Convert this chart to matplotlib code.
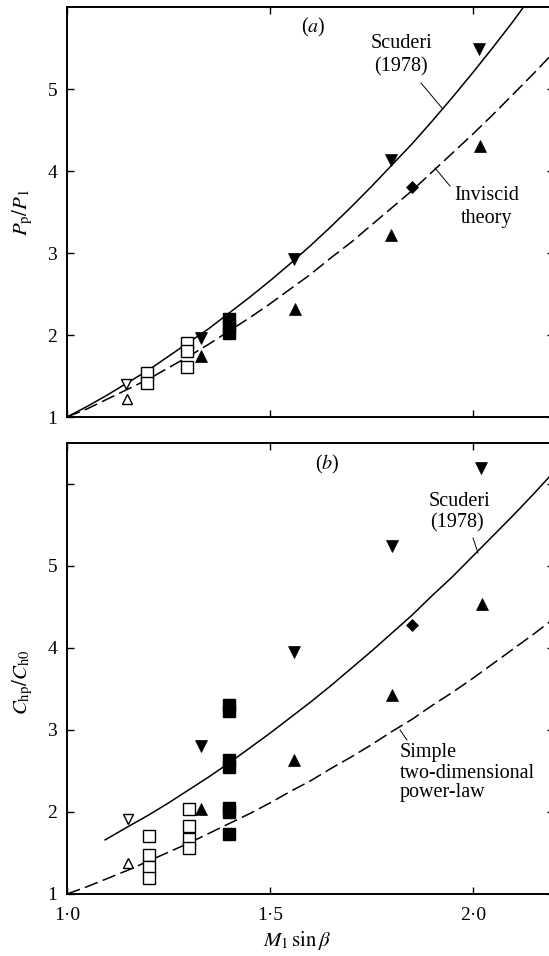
import matplotlib
matplotlib.use("Agg")
import matplotlib.pyplot as plt
from matplotlib.lines import Line2D
from matplotlib.ticker import FixedLocator, FixedFormatter

plt.rcParams['font.family'] = ['Liberation Serif', 'DejaVu Serif']
plt.rcParams['mathtext.fontset'] = 'stix'

# ---------------- data: panel (a) P_p/P_1 ----------------
a_open_down_x = [1.145]
a_open_down_y = [1.40]
a_open_up_x = [1.147]
a_open_up_y = [1.225]
a_open_sq_x = [1.198, 1.198, 1.296, 1.296, 1.296]
a_open_sq_y = [1.54, 1.41, 1.90, 1.81, 1.61]
a_fill_sq_x = [1.40, 1.40, 1.40]
a_fill_sq_y = [2.03, 2.11, 2.19]
a_fill_down_x = [1.329, 1.560, 1.799, 2.016]
a_fill_down_y = [1.96, 2.93, 4.14, 5.49]
a_fill_up_x = [1.329, 1.562, 1.799, 2.018]
a_fill_up_y = [1.74, 2.32, 3.22, 4.31]
a_diamond_x = [1.850]
a_diamond_y = [3.80]
scuderi_a_x = [1.0, 1.05, 1.1, 1.15, 1.2, 1.25, 1.3, 1.35, 1.4, 1.45, 1.5, 1.55,
               1.6, 1.65, 1.7, 1.75, 1.8, 1.85, 1.9, 1.95, 2.0, 2.05, 2.1, 2.15]
scuderi_a_y = [1.0, 1.13, 1.27, 1.42, 1.57, 1.74, 1.91, 2.08, 2.27, 2.46, 2.66, 2.87,
               3.09, 3.32, 3.56, 3.81, 4.07, 4.33, 4.61, 4.90, 5.20, 5.51, 5.83, 6.17]
inviscid_x = [1.0, 1.05, 1.1, 1.15, 1.2, 1.25, 1.3, 1.35, 1.4, 1.45, 1.5, 1.55,
              1.6, 1.65, 1.7, 1.75, 1.8, 1.85, 1.9, 1.95, 2.0, 2.05, 2.1, 2.15, 2.2]
inviscid_y = [1.0, 1.10, 1.22, 1.34, 1.46, 1.60, 1.74, 1.89, 2.05, 2.21, 2.38, 2.56,
              2.74, 2.94, 3.13, 3.34, 3.55, 3.76, 3.99, 4.22, 4.45, 4.69, 4.94, 5.19, 5.45]

# ---------------- data: panel (b) C_hp/C_h0 ----------------
b_open_down_x = [1.151]
b_open_down_y = [1.92]
b_open_up_x = [1.151]
b_open_up_y = [1.375]
b_open_sq_x = [1.201, 1.201, 1.201, 1.201, 1.301, 1.301, 1.301, 1.301]
b_open_sq_y = [1.71, 1.47, 1.33, 1.19, 2.04, 1.83, 1.67, 1.56]
b_fill_sq_x = [1.40, 1.40, 1.40, 1.40, 1.40, 1.40, 1.40]
b_fill_sq_y = [3.23, 3.31, 2.55, 2.63, 2.00, 2.05, 1.73]
b_fill_down_x = [1.331, 1.560, 1.801, 2.019]
b_fill_down_y = [2.80, 3.95, 5.25, 6.20]
b_fill_up_x = [1.331, 1.560, 1.801, 2.022]
b_fill_up_y = [2.04, 2.64, 3.43, 4.54]
b_diamond_x = [1.850]
b_diamond_y = [4.28]
scuderi_b_x = [1.094, 1.15, 1.2, 1.25, 1.3, 1.35, 1.4, 1.45, 1.5, 1.55, 1.6, 1.65,
               1.7, 1.75, 1.8, 1.85, 1.9, 1.95, 2.0, 2.05, 2.1, 2.15, 2.2]
scuderi_b_y = [1.66, 1.82, 1.96, 2.11, 2.27, 2.43, 2.60, 2.78, 2.96, 3.15, 3.34, 3.54,
               3.75, 3.96, 4.18, 4.40, 4.64, 4.87, 5.12, 5.37, 5.62, 5.88, 6.15]
power_b_x = [1.0, 1.05, 1.1, 1.15, 1.2, 1.25, 1.3, 1.35, 1.4, 1.45, 1.5, 1.55,
             1.6, 1.65, 1.7, 1.75, 1.8, 1.85, 1.9, 1.95, 2.0, 2.05, 2.1, 2.15, 2.2]
power_b_y = [1.0, 1.09, 1.19, 1.29, 1.40, 1.51, 1.62, 1.74, 1.86, 1.98, 2.11, 2.25,
             2.38, 2.53, 2.67, 2.82, 2.98, 3.13, 3.30, 3.46, 3.63, 3.81, 3.99, 4.17, 4.36]

x_ticks = [1.0, 1.5, 2.0]
x_ticklabels = ['1·0', '1·5', '2·0']
a_yticks = [1, 2, 3, 4, 5]
a_yticklabels = ['1', '2', '3', '4', '5']
b_yticks = [1, 2, 3, 4, 5, 6]
b_yticklabels = ['1', '2', '3', '4', '5', '']

W, H = 549, 956
fig = plt.figure(figsize=(W / 100, H / 100), dpi=100)

def fx(px):
    return px / W

def fy(py):
    return 1 - py / H

left_px, right_px = 67, 554
ax_a = fig.add_axes([fx(left_px), fy(417), fx(right_px - left_px), (417 - 7) / H])
ax_b = fig.add_axes([fx(left_px), fy(894), fx(right_px - left_px), (894 - 443) / H])

FS = 14
FT = 14.5
ms_tri = 8
ms_sq = 8.5
mew = 1.0

def style_axis(ax, ylim, yticks, ylabels, show_x):
    ax.set_xlim(1.0, 2.2)
    ax.set_ylim(*ylim)
    for s in ax.spines.values():
        s.set_linewidth(1.4)
    ax.xaxis.set_major_locator(FixedLocator(x_ticks))
    ax.yaxis.set_major_locator(FixedLocator(yticks))
    ax.yaxis.set_major_formatter(FixedFormatter(ylabels))
    if show_x:
        ax.xaxis.set_major_formatter(FixedFormatter(x_ticklabels))
    else:
        ax.xaxis.set_major_formatter(FixedFormatter(['', '', '']))
    ax.tick_params(direction='in', length=5, width=1.0, top=True, right=True,
                   labelsize=FS, pad=7)
    ax.tick_params(axis='x', pad=9)

def plot_markers(ax, od, ou, osq, fsq, fd, fu, dm):
    ax.plot(*od, linestyle='none', marker='v', ms=ms_tri - 1, mfc='white', mec='black', mew=mew, zorder=5)
    ax.plot(*ou, linestyle='none', marker='^', ms=ms_tri - 1, mfc='white', mec='black', mew=mew, zorder=5)
    ax.plot(*osq, linestyle='none', marker='s', ms=ms_sq, mfc='white', mec='black', mew=mew, zorder=5)
    ax.plot(*fsq, linestyle='none', marker='s', ms=ms_sq, mfc='black', mec='black', mew=mew, zorder=5)
    ax.plot(*fd, linestyle='none', marker='v', ms=ms_tri, mfc='black', mec='black', mew=0.5, zorder=5)
    ax.plot(*fu, linestyle='none', marker='^', ms=ms_tri, mfc='black', mec='black', mew=0.5, zorder=5)
    ax.plot(*dm, linestyle='none', marker='D', ms=6, mfc='black', mec='black', mew=0.5, zorder=5)

# panel (a)
style_axis(ax_a, (1.0, 6.0), a_yticks, a_yticklabels, False)
ax_a.plot(scuderi_a_x, scuderi_a_y, color='black', lw=1.1)
ax_a.plot(inviscid_x, inviscid_y, color='black', lw=1.1, dashes=(9, 3.5))
plot_markers(ax_a, (a_open_down_x, a_open_down_y), (a_open_up_x, a_open_up_y),
             (a_open_sq_x, a_open_sq_y), (a_fill_sq_x, a_fill_sq_y),
             (a_fill_down_x, a_fill_down_y), (a_fill_up_x, a_fill_up_y),
             (a_diamond_x, a_diamond_y))
ax_a.set_ylabel(r'$P_{\mathrm{p}}/P_1$', fontsize=FS + 1)

# panel (b)
style_axis(ax_b, (1.0, 6.5), b_yticks, b_yticklabels, True)
ax_b.plot(scuderi_b_x, scuderi_b_y, color='black', lw=1.1)
ax_b.plot(power_b_x, power_b_y, color='black', lw=1.1, dashes=(9, 3.5))
plot_markers(ax_b, (b_open_down_x, b_open_down_y), (b_open_up_x, b_open_up_y),
             (b_open_sq_x, b_open_sq_y), (b_fill_sq_x, b_fill_sq_y),
             (b_fill_down_x, b_fill_down_y), (b_fill_up_x, b_fill_up_y),
             (b_diamond_x, b_diamond_y))
ax_b.set_ylabel(r'$C_{\mathrm{hp}}/C_{\mathrm{h0}}$', fontsize=FS + 1)
ax_a.yaxis.set_label_coords(-0.065, 0.5)
ax_b.yaxis.set_label_coords(-0.065, 0.47)
fig.text(fx(297), fy(941), r'$M_1\,\sin\beta$', fontsize=FS + 1, ha='center', va='center')

# annotations (pixel positions)
def t(px, py, s, ha='center'):
    fig.text(fx(px), fy(py), s, fontsize=FT, ha=ha, va='center')

def leader(p0, p1):
    fig.add_artist(Line2D([fx(p0[0]), fx(p1[0])], [fy(p0[1]), fy(p1[1])],
                          color='black', lw=0.7, transform=fig.transFigure))

t(313, 27, r'($a$)')
t(402, 43, 'Scuderi')
t(401, 67, '(1978)')
leader((421, 83), (442, 108))
t(487, 195, 'Inviscid')
t(487, 218, 'theory')
leader((450, 186), (435, 168))

t(327, 464, r'($b$)')
t(459, 502, 'Scuderi')
t(457, 523, '(1978)')
leader((473, 538), (478, 553))
t(400, 753, 'Simple', ha='left')
t(400, 773, 'two-dimensional', ha='left')
t(400, 792, 'power-law', ha='left')
leader((400, 730), (407, 740))

fig.savefig('out.png', dpi=100)
